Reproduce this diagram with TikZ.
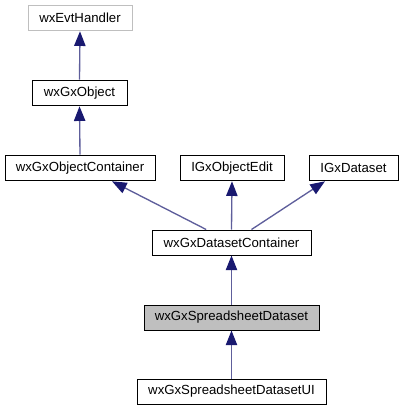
\documentclass[tikz,border=0pt]{standalone}
\usepackage{fontspec}
\setmainfont{Liberation Sans}
\usetikzlibrary{arrows.meta}
\definecolor{edgeblue}{rgb}{0.098,0.098,0.439}
\definecolor{boxgray}{rgb}{0.75,0.75,0.75}
\tikzset{
  cls/.style={draw=black, line width=0.75pt, fill=white, minimum height=19.2pt, inner sep=0pt, font=\fontsize{9.9pt}{11pt}\selectfont},
  ext/.style={cls, draw=boxgray},
  cur/.style={cls, fill=boxgray},
  inh/.style={draw=edgeblue!70!white, line width=1pt, -{Triangle[length=11pt,width=8.5pt,color=edgeblue,fill=edgeblue]}},
}
\begin{document}
\begin{tikzpicture}[x=0.75pt,y=-0.75pt]
\useasboundingbox (0,0) rectangle (403,411);
\node[ext, minimum width=78pt] (evt) at (80,18) {wxEvtHandler};
\node[cls, minimum width=71.25pt] (obj) at (79.5,93) {wxGxObject};
\node[cls, minimum width=112.5pt] (objc) at (80,168) {wxGxObjectContainer};
\node[cls, minimum width=78pt] (edit) at (232,168) {IGxObjectEdit};
\node[cls, minimum width=66.75pt] (ds) at (353.5,168) {IGxDataset};
\node[cls, minimum width=119.25pt, minimum height=18.75pt] (dsc) at (231.5,242.5) {wxGxDatasetContainer};
\node[cur, minimum width=131.25pt, minimum height=18.75pt] (ssd) at (231.5,317.5) {wxGxSpreadsheetDataset};
\node[cls, minimum width=141.75pt, minimum height=18.75pt] (ssdui) at (231.5,391.5) {wxGxSpreadsheetDatasetUI};
\draw[inh] (obj.north) -- (evt.south);
\draw[inh] (objc.north) -- (obj.south);
\draw[inh] ([xshift=-19pt]dsc.north) -- ([xshift=24pt]objc.south);
\draw[inh] (dsc.north) -- (edit.south);
\draw[inh] ([xshift=15pt]dsc.north) -- ([xshift=-21.4pt]ds.south);
\draw[inh] (ssd.north) -- (dsc.south);
\draw[inh] (ssdui.north) -- (ssd.south);
\end{tikzpicture}
\end{document}
